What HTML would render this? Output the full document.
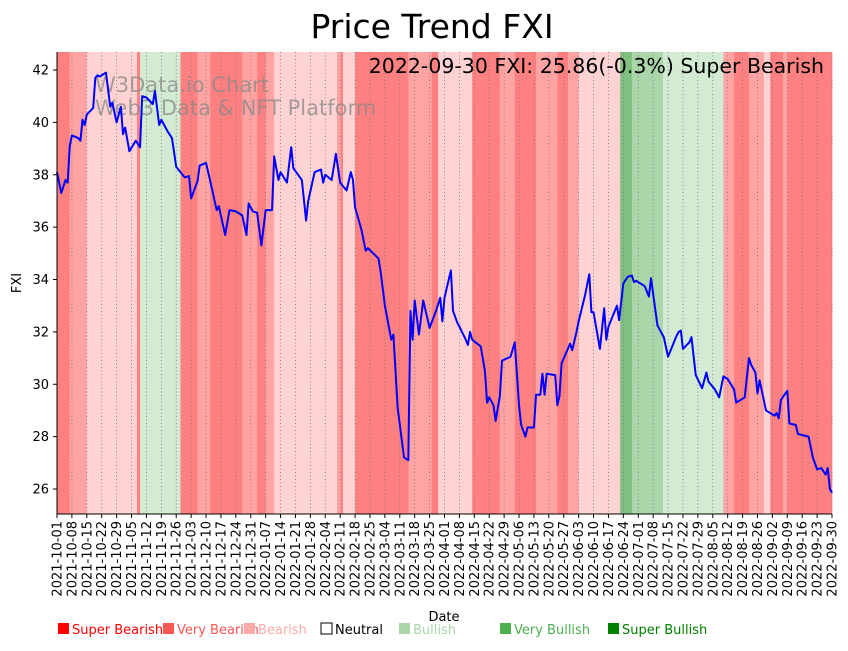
<!DOCTYPE html>
<html><head><meta charset="utf-8"><style>
body{margin:0;background:#fff;}
svg text{font-family:"DejaVu Sans","Liberation Sans",sans-serif;}
</style></head><body>
<svg id="c" width="848" height="646" xmlns="http://www.w3.org/2000/svg">
<text x="432" y="38" font-size="33" text-anchor="middle">Price Trend FXI</text>
<g id="bands"></g><g id="grid"></g>
<text x="95" y="92" font-size="21" fill="#888" fill-opacity="0.75">W3Data.io Chart</text>
<text x="95" y="115" font-size="21" fill="#888" fill-opacity="0.75">Web3 Data &amp; NFT Platform</text>
<g id="line"></g>
<text x="824" y="73" font-size="20.5" text-anchor="end">2022-09-30 FXI: 25.86(-0.3%) Super Bearish</text>
<g id="axes"></g>
<text x="444" y="621" font-size="13" text-anchor="middle">Date</text>
<text transform="translate(21,283) rotate(-90)" font-size="13" text-anchor="middle">FXI</text>
<g id="legend"></g>
</svg>
<script>
const bandStart=[0,6,14,37.6,39,58,66,72,87,94,98,102,131.5,133.4,134.3,140,165,176,179,195,208,215,225,235,240,245,264.5,270,284.6,313,318,325,332,335,341,343];
const bandEnd=[6,14,37.6,39,58,66,72,87,94,98,102,131.5,133.4,134.3,140,165,176,179,195,208,215,225,235,240,245,264.5,270,284.6,313,318,325,332,335,341,343,364];
const bandClass=[0,1,2,0,4,0,1,0,1,0,1,2,1,0,2,0,1,0,2,0,1,0,1,0,1,2,6,5,4,1,0,1,2,0,1,0];
const classColors=["#ff8080","#ffa3a3","#ffd3d3","#ffffff","#d3ebd3","#aad6aa","#80c080"];
const days=[0,2,4,5,6,7,10,11,12,13,14,17,18,19,20,23,25,26,28,30,31,32,34,37,39,40,42,45,46,48,49,52,54,56,60,62,63,66,67,70,72,75,76,79,81,84,87,89,90,92,94,96,98,101,102,104,105,108,110,111,115,117,118,121,124,125,126,129,131,133,136,138,139,140,143,145,146,151,152,154,157,158,160,163,165,166,167,168,170,172,175,178,180,181,182,185,186,188,189,192,193,194,195,199,201,202,203,205,206,208,209,213,215,217,218,220,221,224,225,227,228,229,230,234,235,236,237,241,242,244,245,248,250,251,252,255,257,258,259,263,264,266,268,270,271,272,276,278,279,282,285,287,291,292,293,294,297,298,300,303,305,306,309,311,313,315,318,319,321,323,325,326,328,329,330,333,337,338,339,340,343,344,347,348,353,355,357,359,361,362,363,364];
const prices=[38.1,37.3,37.8,37.7,39.1,39.5,39.4,39.3,40.1,39.9,40.3,40.55,41.7,41.8,41.75,41.9,40.6,40.75,40.0,40.6,39.55,39.8,38.9,39.3,39.05,41.0,40.95,40.7,41.2,39.9,40.1,39.65,39.4,38.3,37.9,37.95,37.1,37.75,38.35,38.45,37.75,36.65,36.8,35.7,36.65,36.6,36.45,35.7,36.9,36.6,36.55,35.3,36.65,36.65,38.7,37.8,38.1,37.7,39.05,38.25,37.8,36.25,37.0,38.1,38.2,37.7,38.0,37.8,38.8,37.7,37.4,38.1,37.8,36.75,35.9,35.1,35.2,34.8,34.3,33.0,31.7,31.9,29.1,27.2,27.1,32.8,31.7,33.2,31.9,33.2,32.15,32.8,33.3,32.4,33.3,34.35,32.8,32.35,32.2,31.7,31.5,32.0,31.7,31.45,30.5,29.3,29.5,29.2,28.6,29.55,30.9,31.05,31.6,29.2,28.45,28.0,28.35,28.35,29.6,29.6,30.4,29.6,30.4,30.35,29.2,29.55,30.8,31.55,31.3,32.0,32.4,33.4,34.2,32.75,32.75,31.35,32.9,31.7,32.2,33.0,32.45,33.85,34.1,34.15,33.9,33.95,33.75,33.35,34.05,32.25,31.8,31.05,31.85,32.0,32.05,31.35,31.6,31.8,30.35,29.85,30.45,30.1,29.8,29.5,30.3,30.2,29.8,29.3,29.4,29.5,31.0,30.75,30.45,29.65,30.15,29.0,28.8,28.9,28.7,29.4,29.75,28.5,28.45,28.1,28.0,27.2,26.75,26.8,26.55,26.8,26.0,25.86];
const yTicks=[26,28,30,32,34,36,38,40,42];
const legendLabels=["Super Bearish","Very Bearish","Bearish","Neutral","Bullish","Very Bullish","Super Bullish"];
const legendColors=["#ff0000","#ff5555","#ffaaaa","#ffffff","#aad6aa","#4caf50","#008000"];
const legendTextColors=["#ff0000","#ff5555","#ffaaaa","#000000","#aad6aa","#4caf50","#008000"];
const legendX=[57,162,243,320,398,499,607];

const NS="http://www.w3.org/2000/svg";
const X0=57,X1=832,Y0=52,Y1=514;
const xs=d=>X0+d*(X1-X0)/364;
const ys=v=>70+(42-v)*(489-70)/16;
function mk(t,a,p){const e=document.createElementNS(NS,t);for(const k in a)e.setAttribute(k,a[k]);p.appendChild(e);return e;}
const gb=document.getElementById('bands');
for(let i=0;i<bandStart.length;i++){
 const r=mk('rect',{x:xs(bandStart[i]),y:Y0,width:xs(bandEnd[i])-xs(bandStart[i])+0.3,height:Y1-Y0,fill:classColors[bandClass[i]]},gb);
 
 
}
const gg=document.getElementById('grid'),ga=document.getElementById('axes');
const start=new Date(Date.UTC(2021,9,1));
const tickDays=[];for(let d=0;d<=357;d+=7)tickDays.push(d);tickDays.push(364);
const tickLabels=tickDays.map(d=>new Date(start.getTime()+d*86400000).toISOString().slice(0,10));
tickDays.forEach((d,i)=>{
 const x=xs(d);
 const l=mk('line',{x1:x,x2:x,y1:Y0,y2:Y1,stroke:'#777','stroke-width':0.8,'stroke-dasharray':'1,2.5'},gg);
 
 
 mk('line',{x1:x,x2:x,y1:Y1,y2:Y1+4,stroke:'#000'},ga);
 const t=mk('text',{transform:`translate(${x+4.5},${Y1+7}) rotate(-90)`,'font-size':13,'text-anchor':'end'},ga);
 t.textContent=tickLabels[i];
 
 
});
yTicks.forEach(v=>{
 const y=ys(v);
 mk('line',{x1:X0-4,x2:X0,y1:y,y2:y,stroke:'#000'},ga);
 const t=mk('text',{x:X0-8,y:y+4.5,'font-size':13,'text-anchor':'end'},ga);
 t.textContent=v;
 
 
});
mk('line',{x1:X0,x2:X0,y1:Y0,y2:Y1,stroke:'#000','stroke-width':1},ga);
mk('line',{x1:X0,x2:X1,y1:Y1,y2:Y1,stroke:'#000','stroke-width':1},ga);
const p=mk('polyline',{points:days.map((d,i)=>xs(d)+','+ys(prices[i])).join(' '),fill:'none',stroke:'#0000ff','stroke-width':2,'stroke-linejoin':'round'},document.getElementById('line'));


const gl=document.getElementById('legend');
legendLabels.forEach((s,i)=>{
 const g=mk('g',{},gl);
 
 
 mk('rect',{x:legendX[i]+1,y:623,width:11,height:11,fill:legendColors[i],stroke:i==3?'#000':'none'},g);
 const t=mk('text',{x:legendX[i]+15,y:634,'font-size':13,fill:legendTextColors[i]},g);
 t.textContent=s;
});
</script>
</body></html>
